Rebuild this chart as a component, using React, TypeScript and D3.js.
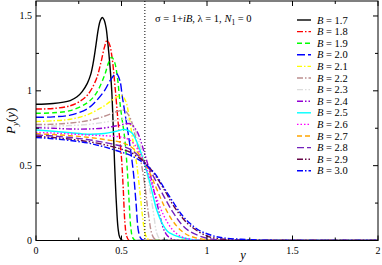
import React from "react"
import * as d3 from "d3"

// B values of each curve (legend order)
const bLabels = ["1.7", "1.8", "1.9", "2.0", "2.1", "2.2", "2.3", "2.4", "2.5", "2.6", "2.7", "2.8", "2.9", "3.0"]

// curves: [y, P_y(y)]
const b17 = [[0, 0.91], [0.1, 0.915], [0.2, 0.935], [0.24, 0.96], [0.27, 0.995], [0.3, 1.05], [0.32, 1.11], [0.335, 1.19], [0.35, 1.3], [0.364, 1.41], [0.376, 1.47], [0.388, 1.49], [0.398, 1.475], [0.41, 1.42], [0.42, 1.32], [0.433, 1.16], [0.443, 1.0], [0.452, 0.75], [0.46, 0.5], [0.47, 0.25], [0.48, 0.08], [0.49, 0.02], [0.505, 0], [0.6, 0], [2, 0]]
const b18 = [[0, 0.878], [0.1, 0.882], [0.2, 0.9], [0.25, 0.925], [0.3, 0.97], [0.35, 1.07], [0.38, 1.19], [0.4, 1.29], [0.415, 1.335], [0.43, 1.31], [0.445, 1.22], [0.462, 1.03], [0.481, 0.78], [0.5, 0.55], [0.51, 0.35], [0.52, 0.12], [0.53, 0.03], [0.545, 0], [0.65, 0], [2, 0]]
const b19 = [[0, 0.85], [0.1, 0.853], [0.2, 0.868], [0.3, 0.92], [0.35, 0.98], [0.4, 1.1], [0.425, 1.19], [0.443, 1.225], [0.46, 1.19], [0.475, 1.1], [0.494, 0.89], [0.52, 0.67], [0.535, 0.45], [0.545, 0.25], [0.555, 0.08], [0.565, 0.02], [0.58, 0], [0.7, 0], [2, 0]]
const b20 = [[0, 0.823], [0.1, 0.826], [0.2, 0.838], [0.3, 0.88], [0.35, 0.93], [0.4, 1.0], [0.44, 1.08], [0.47, 1.115], [0.49, 1.07], [0.505, 0.96], [0.53, 0.78], [0.55, 0.63], [0.57, 0.45], [0.585, 0.25], [0.598, 0.07], [0.61, 0.02], [0.63, 0], [0.75, 0], [2, 0]]
const b21 = [[0, 0.795], [0.1, 0.8], [0.2, 0.81], [0.3, 0.84], [0.4, 0.9], [0.46, 0.95], [0.5, 0.968], [0.525, 0.93], [0.545, 0.82], [0.569, 0.65], [0.59, 0.5], [0.61, 0.3], [0.625, 0.14], [0.637, 0.05], [0.65, 0.015], [0.67, 0], [0.8, 0], [2, 0]]
const b22 = [[0, 0.775], [0.1, 0.777], [0.2, 0.785], [0.3, 0.8], [0.4, 0.83], [0.47, 0.86], [0.515, 0.87], [0.55, 0.82], [0.58, 0.7], [0.61, 0.55], [0.635, 0.38], [0.655, 0.2], [0.676, 0.05], [0.69, 0.015], [0.71, 0], [0.85, 0], [2, 0]]
const b23 = [[0, 0.765], [0.1, 0.765], [0.2, 0.768], [0.3, 0.775], [0.4, 0.79], [0.48, 0.805], [0.53, 0.81], [0.57, 0.76], [0.6, 0.67], [0.63, 0.55], [0.66, 0.38], [0.685, 0.2], [0.706, 0.05], [0.72, 0.015], [0.74, 0], [0.9, 0], [2, 0]]
const b24 = [[0, 0.754], [0.1, 0.75], [0.2, 0.745], [0.3, 0.745], [0.4, 0.752], [0.48, 0.768], [0.55, 0.78], [0.59, 0.73], [0.63, 0.6], [0.66, 0.48], [0.69, 0.33], [0.72, 0.19], [0.745, 0.08], [0.77, 0.03], [0.8, 0.008], [0.83, 0], [1, 0], [2, 0]]
const b25 = [[0, 0.738], [0.1, 0.73], [0.2, 0.72], [0.3, 0.71], [0.4, 0.715], [0.47, 0.73], [0.52, 0.742], [0.56, 0.72], [0.6, 0.63], [0.63, 0.53], [0.657, 0.426], [0.68, 0.32], [0.706, 0.204], [0.74, 0.11], [0.77, 0.06], [0.8, 0.04], [0.85, 0.02], [0.9, 0.008], [0.95, 0], [1.1, 0], [2, 0]]
const b26 = [[0, 0.722], [0.1, 0.718], [0.2, 0.712], [0.3, 0.705], [0.4, 0.7], [0.5, 0.69], [0.55, 0.67], [0.6, 0.6], [0.65, 0.47], [0.7, 0.3], [0.75, 0.16], [0.8, 0.07], [0.85, 0.025], [0.9, 0.008], [1.0, 0], [1.2, 0], [2, 0]]
const b27 = [[0, 0.713], [0.1, 0.708], [0.2, 0.7], [0.3, 0.69], [0.4, 0.675], [0.5, 0.655], [0.55, 0.63], [0.6, 0.58], [0.65, 0.49], [0.7, 0.36], [0.75, 0.23], [0.8, 0.13], [0.85, 0.065], [0.9, 0.03], [1.0, 0.005], [1.1, 0], [1.3, 0], [2, 0]]
const b28 = [[0, 0.705], [0.1, 0.698], [0.2, 0.688], [0.3, 0.675], [0.4, 0.655], [0.5, 0.63], [0.55, 0.61], [0.6, 0.565], [0.65, 0.5], [0.7, 0.4], [0.75, 0.29], [0.8, 0.19], [0.85, 0.11], [0.9, 0.06], [1.0, 0.015], [1.1, 0.003], [1.2, 0], [1.4, 0], [2, 0]]
const b29 = [[0, 0.695], [0.1, 0.688], [0.2, 0.677], [0.3, 0.662], [0.4, 0.64], [0.5, 0.61], [0.55, 0.59], [0.6, 0.555], [0.65, 0.505], [0.7, 0.43], [0.75, 0.34], [0.8, 0.24], [0.85, 0.16], [0.9, 0.1], [1.0, 0.03], [1.1, 0.008], [1.2, 0.002], [1.3, 0], [1.5, 0], [2, 0]]
const b30 = [[0, 0.688], [0.1, 0.68], [0.2, 0.668], [0.3, 0.652], [0.4, 0.625], [0.5, 0.59], [0.55, 0.57], [0.6, 0.54], [0.65, 0.5], [0.7, 0.44], [0.75, 0.35], [0.8, 0.26], [0.85, 0.175], [0.9, 0.115], [0.95, 0.07], [1.0, 0.045], [1.05, 0.027], [1.1, 0.017], [1.2, 0.008], [1.3, 0.003], [1.5, 0], [1.7, 0], [2, 0]]

const curves = [b17, b18, b19, b20, b21, b22, b23, b24, b25, b26, b27, b28, b29, b30]

const colors = ["#000000", "#ff0000", "#00ff00", "#0000ff", "#ffff00", "#bc8f8f", "#dcdcdc", "#9400d3", "#00ffff", "#ff00ff", "#ffa500", "#7221bc", "#670748", "#0000ff"]
const dashes = ["none", "6,2,1.5,2", "5,3", "8,3", "5,2,1.5,2", "6,2,1.5,2", "6,2,1.5,2,1.5,2", "6,2,1.5,2,1.5,2", "none", "1.5,2", "5,3", "7,3", "6,2,1.5,2,1.5,2", "6,2,1.5,2"]

const xTicks = [0, 0.5, 1, 1.5, 2]
const yTicks = [0, 0.5, 1, 1.5]
const dottedAt = 2 / Math.PI

const W = 382, H = 265
const left = 36, right = 378, top = 1, bottom = 240.5
const font = "'Liberation Serif', 'Times New Roman', serif"

export default function App() {
  const x = d3.scaleLinear().domain([0, 2]).range([left, right])
  const y = d3.scaleLinear().domain([0, 1.6]).range([bottom, top])
  const line = d3.line<number[]>()
    .x(d => x(d[0]))
    .y(d => y(Math.max(0, d[1])))
    .curve(d3.curveCatmullRom.alpha(0.5))

  const xMinor = d3.range(0, 2.001, 0.25)
  const yMinor = d3.range(0, 1.6, 0.25)

  return (
    <svg width={W} height={H} style={{ position: "absolute", left: 0, top: 0, background: "#fff" }} fontFamily={font}>
      <defs>
        <clipPath id="plot">
          <rect x={left} y={top} width={right - left} height={bottom - top} />
        </clipPath>
      </defs>

      <g clipPath="url(#plot)">
        {curves.map((c, i) => (
          <path key={i} d={line(c) || ""} fill="none" stroke={colors[i]}
            strokeWidth={1.4} strokeDasharray={dashes[i]} />
        ))}
        <line x1={x(dottedAt)} x2={x(dottedAt)} y1={top} y2={bottom}
          stroke="#000" strokeWidth={1} strokeDasharray="1,2" />
      </g>

      {/* frame and ticks, mirrored on all sides */}
      <rect x={left} y={top} width={right - left} height={bottom - top} fill="none" stroke="#000" strokeWidth={1} />
      {xMinor.map(v => {
        const len = xTicks.includes(v) ? 5 : 3
        return (
          <g key={"xt" + v}>
            <line x1={x(v)} x2={x(v)} y1={bottom} y2={bottom - len} stroke="#000" />
            <line x1={x(v)} x2={x(v)} y1={top} y2={top + len} stroke="#000" />
          </g>
        )
      })}
      {yMinor.map(v => {
        const len = yTicks.includes(v) ? 5 : 3
        return (
          <g key={"yt" + v}>
            <line x1={left} x2={left + len} y1={y(v)} y2={y(v)} stroke="#000" />
            <line x1={right} x2={right - len} y1={y(v)} y2={y(v)} stroke="#000" />
          </g>
        )
      })}

      {xTicks.map(v => (
        <text key={"xl" + v} x={x(v)} y={bottom + 13} fontSize={10} textAnchor="middle">{d3.format("")(v)}</text>
      ))}
      {yTicks.map(v => (
        <text key={"yl" + v} x={left - 4} y={y(v) + 3.5} fontSize={10} textAnchor="end">{d3.format("")(v)}</text>
      ))}

      <text x={(left + right) / 2 + 36} y={259} fontSize={12.5} fontStyle="italic" textAnchor="middle">y</text>
      <text transform={`translate(15,${(top + bottom) / 2}) rotate(-90)`} fontSize={13} textAnchor="middle">
        <tspan fontStyle="italic">P</tspan>
        <tspan fontSize={9} fontStyle="italic" dy={3}>y</tspan>
        <tspan dy={-3}>(</tspan>
        <tspan fontStyle="italic">y</tspan>
        <tspan>)</tspan>
      </text>

      <text x={155} y={22} fontSize={10.5}>
        <tspan>σ = 1+</tspan>
        <tspan fontStyle="italic">iB</tspan>
        <tspan>, λ = 1, </tspan>
        <tspan fontStyle="italic">N</tspan>
        <tspan fontSize={7.5} dy={3}>1</tspan>
        <tspan dy={-3}> = 0</tspan>
      </text>

      {bLabels.map((b, i) => {
        const ly = 20 + i * 11.6
        return (
          <g key={"lg" + b}>
            <line x1={297} x2={311} y1={ly} y2={ly} stroke={colors[i]} strokeWidth={1.4} strokeDasharray={dashes[i]} />
            <text x={317} y={ly + 3.5} fontSize={10.5}>
              <tspan fontStyle="italic">B</tspan>
              <tspan> = {b}</tspan>
            </text>
          </g>
        )
      })}
    </svg>
  )
}
